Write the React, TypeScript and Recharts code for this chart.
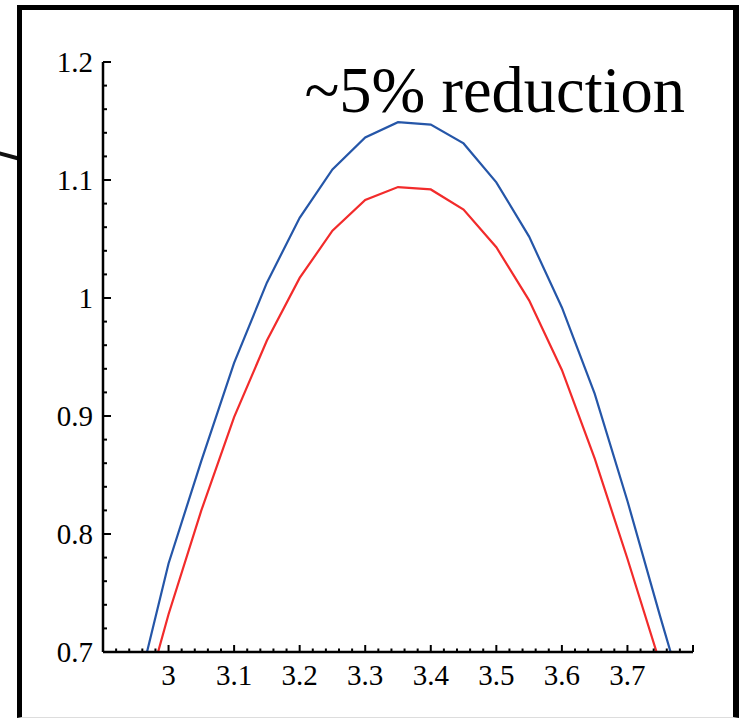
import { LineChart, Line, XAxis, YAxis } from "recharts";

// x positions of the computed points
const X_VALUES = [
  2.95, 3.0, 3.05, 3.1, 3.15, 3.2, 3.25, 3.3, 3.35, 3.4, 3.45, 3.5, 3.55, 3.6,
  3.65, 3.7, 3.75, 3.8,
];
// upper (blue) curve
const BLUE = [
  0.661, 0.775, 0.862, 0.945, 1.013, 1.068, 1.109, 1.136, 1.149, 1.147, 1.131,
  1.098, 1.052, 0.992, 0.919, 0.828, 0.73, 0.635,
];
// lower (red) curve, ~5% below
const RED = [
  0.632, 0.732, 0.82, 0.899, 0.964, 1.017, 1.057, 1.083, 1.094, 1.092, 1.075,
  1.043, 0.998, 0.939, 0.864, 0.779, 0.69, 0.6,
];

const X_MAJOR = [3, 3.1, 3.2, 3.3, 3.4, 3.5, 3.6, 3.7];
const X_LABELS = ["3", "3.1", "3.2", "3.3", "3.4", "3.5", "3.6", "3.7"];
const Y_MAJOR = [0.7, 0.8, 0.9, 1, 1.1, 1.2];
const Y_LABELS = ["0.7", "0.8", "0.9", "1", "1.1", "1.2"];

const X_DOMAIN: [number, number] = [2.9, 3.8];
const Y_DOMAIN: [number, number] = [0.7, 1.2];

// minor tick grid, every 0.02
function steps(from: number, to: number, step: number) {
  const out: number[] = [];
  const n = Math.round((to - from) / step);
  for (let i = 0; i <= n; i++) out.push(Math.round((from + i * step) * 1000) / 1000);
  return out;
}
const X_TICKS = steps(X_DOMAIN[0], X_DOMAIN[1], 0.02);
const Y_TICKS = steps(Y_DOMAIN[0], Y_DOMAIN[1], 0.02);

const FONT = '"Liberation Serif", "DejaVu Serif", serif';

function labelFor(v: number, majors: number[], labels: string[]) {
  const i = majors.findIndex((m) => Math.abs(m - v) < 1e-6);
  return i >= 0 ? labels[i] : null;
}

function isMajor(v: number) {
  return Math.abs(v * 10 - Math.round(v * 10)) < 1e-6;
}

function XTick({ x, y, payload }: any) {
  const v = payload.value as number;
  const label = labelFor(v, X_MAJOR, X_LABELS);
  return (
    <g>
      <line x1={x} x2={x} y1={y} y2={y - (isMajor(v) ? 7 : 3.5)} stroke="#000" strokeWidth={2} />
      {label && (
        <text x={x} y={y + 12} dy="0.71em" textAnchor="middle" fontFamily={FONT} fontSize={29} fill="#000">
          {label}
        </text>
      )}
    </g>
  );
}

function YTick({ x, y, payload }: any) {
  const v = payload.value as number;
  const label = labelFor(v, Y_MAJOR, Y_LABELS);
  return (
    <g>
      <line x1={x} x2={x + (isMajor(v) ? 8 : 4)} y1={y} y2={y} stroke="#000" strokeWidth={2} />
      {label && (
        <text x={x - 10} y={y} dy="0.355em" textAnchor="end" fontFamily={FONT} fontSize={29} fill="#000">
          {label}
        </text>
      )}
    </g>
  );
}

export default function App() {
  const rows = X_VALUES.map((x, i) => ({ x, blue: BLUE[i], red: RED[i] }));

  return (
    <div style={{ position: "absolute", left: 0, top: 0, width: 740, height: 720, overflow: "hidden", background: "#fff" }}>
      {/* leader line coming in from the left */}
      <div
        style={{
          position: "absolute",
          left: -2,
          top: 151,
          width: 24,
          height: 4,
          background: "#111",
          transform: "rotate(15deg)",
          transformOrigin: "0 50%",
        }}
      />
      {/* outer slide frame */}
      <div
        style={{
          position: "absolute",
          left: 17,
          top: 5,
          width: 722,
          height: 713,
          boxSizing: "border-box",
          borderLeft: "5px solid #000",
          borderTop: "5px solid #000",
          borderRight: "6px solid #000",
          borderBottom: "1px solid #ddd",
          background: "#fff",
        }}
      />

      <div style={{ position: "absolute", left: 0, top: 0 }}>
        <LineChart width={740} height={720} data={rows} margin={{ top: 62, right: 47, bottom: 0, left: 0 }}>
          <XAxis
            dataKey="x"
            type="number"
            domain={X_DOMAIN}
            allowDataOverflow
            ticks={X_TICKS}
            interval={0}
            height={68}
            tickSize={0}
            tickMargin={0}
            tickLine={false}
            tick={<XTick />}
            axisLine={{ stroke: "#000", strokeWidth: 2.5 }}
          />
          <XAxis
            xAxisId="top"
            orientation="top"
            dataKey="x"
            type="number"
            domain={X_DOMAIN}
            height={0}
            tick={false}
            tickLine={false}
            axisLine={{ stroke: "#000", strokeWidth: 2 }}
          />
          <YAxis
            type="number"
            domain={Y_DOMAIN}
            allowDataOverflow
            ticks={Y_TICKS}
            interval={0}
            width={103}
            tickSize={0}
            tickMargin={0}
            tickLine={false}
            tick={<YTick />}
            axisLine={{ stroke: "#000", strokeWidth: 2.5 }}
          />
          <YAxis
            yAxisId="right"
            orientation="right"
            type="number"
            domain={Y_DOMAIN}
            width={0}
            tick={false}
            tickLine={false}
            axisLine={{ stroke: "#000", strokeWidth: 2 }}
          />
          <Line type="linear" dataKey="blue" stroke="#2556a8" strokeWidth={2.2} dot={false} isAnimationActive={false} />
          <Line type="linear" dataKey="red" stroke="#f22b2b" strokeWidth={2.2} dot={false} isAnimationActive={false} />
        </LineChart>
      </div>

      <svg width={740} height={720} style={{ position: "absolute", left: 0, top: 0, pointerEvents: "none" }}>
        <text x={685} y={112} textAnchor="end" fontFamily={FONT} fontSize={64.5} fill="#000">
          ~5% reduction
        </text>
      </svg>
    </div>
  );
}
